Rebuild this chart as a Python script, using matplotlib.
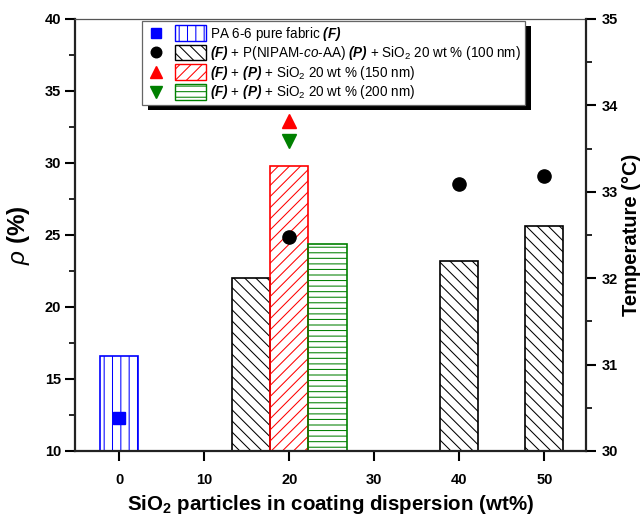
import matplotlib
matplotlib.use('Agg')
import matplotlib.pyplot as plt
from matplotlib.patches import Rectangle
from matplotlib.lines import Line2D
from matplotlib.transforms import IdentityTransform
from matplotlib.legend_handler import HandlerBase
from matplotlib.ticker import MultipleLocator
from collections import defaultdict

plt.rcParams['font.family'] = ['Liberation Sans', 'DejaVu Sans']
plt.rcParams['mathtext.fontset'] = 'custom'
plt.rcParams['mathtext.rm'] = 'Liberation Sans'
plt.rcParams['mathtext.it'] = 'Liberation Sans:italic'
plt.rcParams['mathtext.bf'] = 'Liberation Sans:bold'
plt.rcParams['mathtext.bfit'] = 'Liberation Sans:bold:italic'
plt.rcParams['hatch.linewidth'] = 0.75

# ---------------- data ----------------
labels = [
    r"PA 6-6 pure fabric $\mathbfit{(F)}$",
    r"$\mathbfit{(F)}$ + P(NIPAM-$\mathit{co}$-AA) $\mathbfit{(P)}$ + SiO$_2$ 20 wt % (100 nm)",
    r"$\mathbfit{(F)}$ + $\mathbfit{(P)}$ + SiO$_2$ 20 wt % (150 nm)",
    r"$\mathbfit{(F)}$ + $\mathbfit{(P)}$ + SiO$_2$ 20 wt % (200 nm)",
]
sio2_pure = [0]
rho_pure = [16.6]
temp_pure = [30.38]

sio2_100 = [20, 40, 50]
rho_100 = [22.0, 23.2, 25.6]
temp_100 = [32.48, 33.09, 33.18]

sio2_150 = [20]
rho_150 = [29.8]
temp_150 = [33.82]

sio2_200 = [20]
rho_200 = [24.4]
temp_200 = [33.59]

x_ticks = [0, 10, 20, 30, 40, 50]
# --------------------------------------

series = [
    dict(x=sio2_pure, rho=rho_pure, t=temp_pure, color='#0000FF', hatch='||', marker='s', ms=8.5),
    dict(x=sio2_100, rho=rho_100, t=temp_100, color='black', hatch='\\\\\\', marker='o', ms=9.5),
    dict(x=sio2_150, rho=rho_150, t=temp_150, color='#FF0000', hatch='///', marker='^', ms=10.5),
    dict(x=sio2_200, rho=rho_200, t=temp_200, color='#008000', hatch='---', marker='v', ms=10.5),
]

bar_w = 4.5
base = 10

fig = plt.figure(figsize=(6.43, 5.17), dpi=100)
ax = fig.add_axes([75 / 643, 1 - 451 / 517, 511 / 643, 432 / 517])
ax2 = ax.twinx()

# dodge bars that share the same x
groups = defaultdict(list)
for si, s in enumerate(series):
    for xv in s['x']:
        groups[xv].append(si)

for si, s in enumerate(series):
    xs = []
    for xv in s['x']:
        members = groups[xv]
        k = members.index(si)
        n = len(members)
        xs.append(xv + (k - (n - 1) / 2) * bar_w)
    heights = [r - base for r in s['rho']]
    ax.bar(xs, heights, width=bar_w, bottom=base, color='none',
           edgecolor=s['color'], hatch=s['hatch'], linewidth=1.2, zorder=2)

for s in series:
    ax2.plot(s['x'], s['t'], linestyle='none', marker=s['marker'],
             color=s['color'], markersize=s['ms'], zorder=5)

ax.set_xlim(-5.2, 54.9)
ax.set_ylim(10, 40)
ax2.set_ylim(30, 35)
ax.set_xticks(x_ticks)
ax.yaxis.set_major_locator(MultipleLocator(5))
ax.yaxis.set_minor_locator(MultipleLocator(2.5))
ax2.yaxis.set_major_locator(MultipleLocator(1))
ax2.yaxis.set_minor_locator(MultipleLocator(0.5))

for a in (ax, ax2):
    for sp in a.spines.values():
        sp.set_linewidth(1.6)
        sp.set_color('#222222')
ax.spines['right'].set_visible(False)
ax2.spines['left'].set_visible(False)
ax2.spines['bottom'].set_visible(False)
ax2.spines['top'].set_visible(False)
ax.spines['top'].set_linewidth(0.9)
ax.spines['top'].set_color('#555555')

ax.tick_params(axis='y', which='major', direction='out', length=7, width=1.5, pad=3, labelsize=10.5)
ax.tick_params(axis='y', which='minor', direction='out', length=4, width=1.2)
ax.tick_params(axis='x', which='major', direction='out', length=7, width=1.5, pad=9, labelsize=10.5, top=False)
ax2.tick_params(axis='y', which='major', direction='out', length=7, width=1.5, pad=4, labelsize=10.5)
ax2.tick_params(axis='y', which='minor', direction='out', length=4, width=1.2)
for lab in ax.get_xticklabels() + ax.get_yticklabels() + ax2.get_yticklabels():
    lab.set_fontweight('bold')

ax.set_xlabel(r"SiO$_\mathbf{2}$ particles in coating dispersion (wt%)", fontsize=14.8, fontweight='bold', labelpad=4)
ax.set_ylabel(r"$\rho$ (%)", fontsize=17.5, fontweight='bold', labelpad=9)
ax2.set_ylabel("Temperature (°C)", fontsize=14.5, fontweight='bold', rotation=90, labelpad=3)


class Entry:
    def __init__(self, s):
        self.s = s


class EntryHandler(HandlerBase):
    def create_artists(self, legend, orig, xdescent, ydescent, width, height, fontsize, trans):
        s = orig.s
        x0 = -xdescent
        y0 = -ydescent
        cy = y0 + height / 2
        mk = Line2D([x0 + 7.7], [cy], marker=s['marker'], color=s['color'],
                    markersize=s['ms'] * 0.8, linestyle='none', transform=trans)
        ph = 11.3
        px = x0 + 21.4
        rect = Rectangle((px, cy - ph / 2), width - 21.4, ph, facecolor='white',
                         edgecolor=s['color'], hatch=s['hatch'], linewidth=1.0, transform=trans)
        return [mk, rect]


entries = [Entry(s) for s in series]
leg = ax2.legend(entries, labels, handler_map={Entry: EntryHandler()},
                 loc='upper left', bbox_to_anchor=(0.131, 0.995), borderaxespad=0,
                 fontsize=9.75, handlelength=4.5, handleheight=0.9, handletextpad=0.3,
                 labelspacing=0.12, borderpad=0.25, fancybox=False, framealpha=1,
                 edgecolor='#666666')
leg.get_frame().set_linewidth(0.9)
leg.set_zorder(10)

fig.canvas.draw()
bb = leg.get_window_extent()
shadow = Rectangle((bb.x0 + 6, bb.y0 - 5), bb.width, bb.height, transform=IdentityTransform(),
                   facecolor='black', edgecolor='none', zorder=9.9, clip_on=False)
ax2.add_artist(shadow)

fig.savefig('out.png', dpi=100)
